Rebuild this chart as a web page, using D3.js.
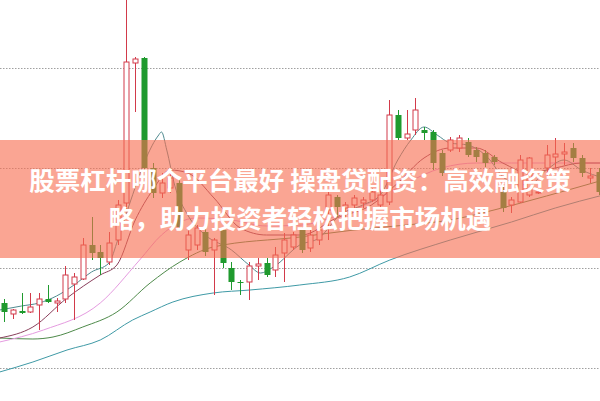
<!DOCTYPE html>
<html><head><meta charset="utf-8">
<script src="https://cdn.jsdelivr.net/npm/d3@7"></script>
<style>html,body{margin:0;padding:0;background:#fff;overflow:hidden}</style>
</head><body><svg id="c" width="600" height="401"></svg>
<script>
const titleLines = ["股票杠杆哪个平台最好 操盘贷配资：高效融资策", "略，助力投资者轻松把握市场机遇"];
const gridPrices = [10, 11, 12, 13];
const opens  = [10.65,10.54,10.57,10.56,10.63,10.69,10.65,10.69,10.84,10.89,11.23,11.16,11.06,11.28,11.65,13.05,13.10,12.00,11.75,11.80,11.85,11.18,11.23,11.36,11.18,11.38,11.00,10.86,10.86,11.02,11.05,10.98,11.15,11.21,11.38,11.20,11.28,11.58,11.71,11.60,11.63,11.65,11.68,11.63,11.66,12.53,12.30,12.38,12.38,12.36,12.15,12.18,12.20,12.26,12.18,12.15,12.11,11.76,11.63,11.66,11.73,11.75,12.00,12.11,12.14,12.20,12.10,11.90,11.96];
const closes = [10.56,10.58,10.55,10.61,10.69,10.66,10.67,10.93,10.91,11.23,11.15,11.10,11.25,11.63,13.06,13.09,12.00,11.75,11.85,11.90,11.41,11.33,11.40,11.16,11.28,11.05,10.86,10.85,11.02,11.04,10.93,11.13,11.28,11.33,11.18,11.33,11.38,11.73,11.61,11.63,11.70,11.68,11.76,11.73,12.53,12.30,12.34,12.58,12.35,12.05,11.95,12.28,12.30,12.13,12.11,12.05,12.06,11.60,11.68,12.08,12.10,11.76,12.13,12.14,12.16,12.10,11.95,11.92,11.76];
const highs  = [10.69,10.59,10.75,10.75,10.75,10.83,10.70,11.02,10.95,11.30,11.51,11.23,11.36,11.68,13.90,13.11,13.11,12.05,11.95,11.95,11.90,11.38,11.43,11.40,11.30,11.40,11.06,10.88,11.06,11.10,11.10,11.21,11.35,11.36,11.41,11.38,11.43,11.78,11.73,11.66,11.73,11.71,11.80,11.91,12.68,12.58,12.58,12.70,12.41,12.38,12.18,12.31,12.33,12.30,12.21,12.18,12.13,11.81,11.71,12.13,12.11,11.80,12.23,12.30,12.25,12.25,12.13,12.00,12.00];
const lows   = [10.46,10.49,10.54,10.55,10.38,10.65,10.56,10.65,10.48,10.88,11.08,10.93,11.03,11.23,11.58,12.56,11.98,11.70,11.70,11.75,11.38,11.08,11.18,11.12,10.73,11.00,10.78,10.73,10.68,10.88,10.91,10.91,10.86,11.18,11.15,11.16,11.23,11.28,11.51,11.51,11.58,11.60,11.66,11.60,11.63,12.28,12.28,12.33,12.28,11.98,11.92,12.16,12.16,12.11,12.06,12.01,12.03,11.56,11.55,11.65,11.71,11.74,11.90,12.00,12.03,12.06,11.91,11.85,11.73];
// moving average lines: positions in candle-index units and price values
const ma5Idx  = [-0.5,2,4,6,8,10,12,13,14.5,16.3,17.6,18,18.6,19.5,21,23,26,28,29.3,30.8,33.8,36,38.4,41,43,45,46.5,48,49.5,51,53,55,57.5,60,62,64,66,68.5];
const ma5Val  = [10.58,10.62,10.65,10.72,10.83,10.96,11.05,11.28,11.68,12.11,12.32,12.36,12.18,11.83,11.53,11.33,11.18,11.03,10.95,11.01,11.23,11.30,11.53,11.63,11.73,12.08,12.28,12.41,12.33,12.25,12.23,12.13,11.88,11.83,11.98,12.08,11.98,11.90];
const ma10Idx = [-0.5,3.3,7.2,11,12.9,15,17,19,21,24,27,30,34,38,42,45,48,51,54,57,60,63,66,68.5];
const ma10Val = [10.30,10.41,10.70,10.93,11.03,11.48,11.78,11.98,11.95,11.70,11.40,11.33,11.33,11.50,11.63,11.85,12.10,12.20,12.20,12.05,11.95,12.00,12.05,12.05];
const ma20Idx = [-0.5,4.5,11,15.5,18,22,26,30,34,38,42,46,50,54,58,62,66,68.5];
const ma20Val = [10.26,10.38,10.65,11.08,11.33,11.50,11.48,11.42,11.43,11.52,11.66,11.85,12.00,12.05,12.05,12.05,12.05,12.05];
const ma30Idx = [-0.5,3.3,5.6,9,12.9,16.7,20.1,23.9,33.8,40,46,51,56,62,68.5];
const ma30Val = [10.30,10.29,10.31,10.41,10.56,10.85,11.06,11.21,11.31,11.38,11.43,11.48,11.58,11.72,11.88];
const ma60Idx = [-0.5,3.3,7.2,11,14.7,16.7,19.3,23.9,28.1,33.8,39.5,44.1,51,58,63,68.5];
const ma60Val = [9.96,10.06,10.18,10.28,10.48,10.56,10.66,10.75,10.78,10.83,10.91,11.08,11.28,11.46,11.60,11.73];

const W = 600, H = 401;
const svg = d3.select("#c");
const N = opens.length;
const x = d3.scaleLinear().domain([0, N - 1]).range([4, 599]);
const y = d3.scaleLinear().domain([9.67, 13.68]).range([H, 0]);
const bodyW = 5;
const RED = "#d23a4a", GREEN = "#1f9a2e";

svg.append("g").selectAll("line").data(gridPrices).join("line")
  .attr("x1", 0).attr("x2", W)
  .attr("y1", d => Math.round(y(d)) + 0.5).attr("y2", d => Math.round(y(d)) + 0.5)
  .attr("stroke", "#a0a0a0").attr("stroke-width", 1).attr("stroke-dasharray", "1.5,1.5");

const maDefs = [
  [ma60Idx, ma60Val, "#3f9aa6"],
  [ma30Idx, ma30Val, "#4e8a4a"],
  [ma20Idx, ma20Val, "#e59be0"],
  [ma10Idx, ma10Val, "#8a3f5c"],
  [ma5Idx,  ma5Val,  "#4f8a8f"]
];
const lineGen = d3.line().x(d => x(d[0])).y(d => y(d[1])).curve(d3.curveMonotoneX);
maDefs.forEach(([ix, v, col]) => {
  svg.append("path").datum(ix.map((d, i) => [d, v[i]]))
    .attr("d", lineGen).attr("fill", "none").attr("stroke", col).attr("stroke-width", 1);
});

const idx = d3.range(N);
const g = svg.append("g");
idx.forEach(i => {
  const up = closes[i] >= opens[i];
  const col = up ? RED : GREEN;
  const cx = Math.round(x(i)) + 0.5;
  const top = y(Math.max(opens[i], closes[i]));
  const bot = y(Math.min(opens[i], closes[i]));
  g.append("line").attr("x1", cx).attr("x2", cx).attr("y1", y(highs[i])).attr("y2", top).attr("stroke", col);
  g.append("line").attr("x1", cx).attr("x2", cx).attr("y1", bot).attr("y2", y(lows[i])).attr("stroke", col);
  if (up) {
    g.append("rect").attr("x", cx - bodyW / 2).attr("y", top).attr("width", bodyW).attr("height", Math.max(1, bot - top))
      .attr("fill", "#fff").attr("stroke", col).attr("stroke-width", 1);
  } else {
    g.append("rect").attr("x", cx - bodyW / 2 - 0.5).attr("y", top).attr("width", bodyW + 1).attr("height", Math.max(1, bot - top))
      .attr("fill", col);
  }
});

svg.append("rect").attr("x", 0).attr("y", 140).attr("width", W).attr("height", 118)
  .attr("fill", "rgb(247,110,80)").attr("fill-opacity", 0.62);

svg.append("g").selectAll("text").data(titleLines).join("text")
  .attr("x", W / 2).attr("y", (d, i) => 190 + i * 38)
  .attr("text-anchor", "middle")
  .attr("font-family", "'Noto Sans CJK SC', 'Noto Sans', sans-serif")
  .attr("font-weight", 700).attr("font-size", 25.5)
  .attr("fill", "#fff").text(d => d);
</script></body></html>
